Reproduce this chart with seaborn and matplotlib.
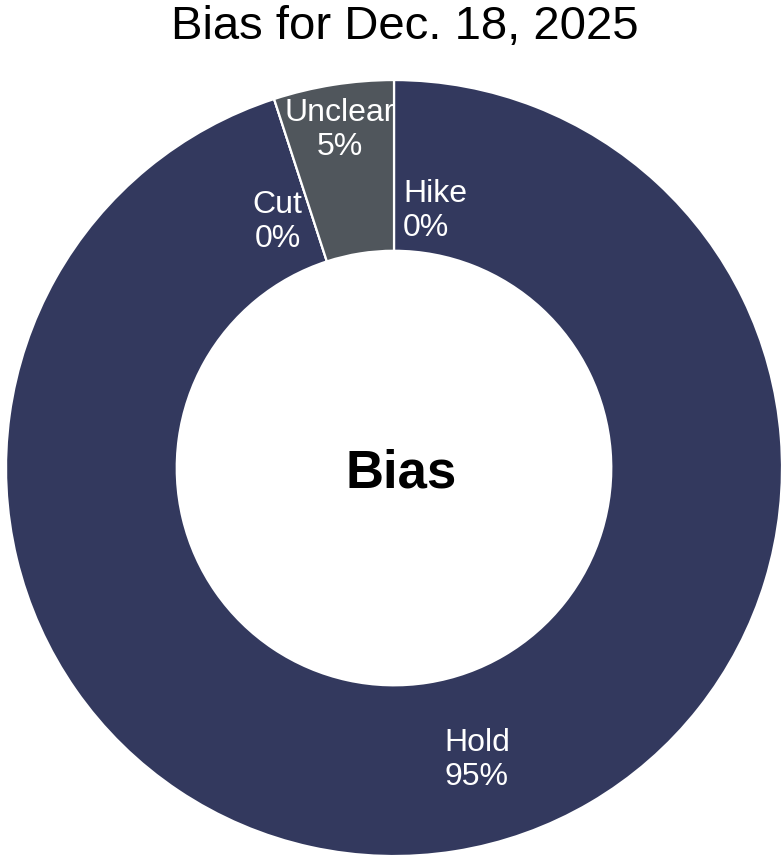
import matplotlib
matplotlib.use("Agg")
import matplotlib.pyplot as plt
import seaborn as sns

# data, clockwise from 12 o'clock
categories = ["Hike", "Hold", "Cut", "Unclear"]
shares = [0, 95, 0, 5]
slice_colors = ["#33395E", "#33395E", "#33395E", "#50565C"]
title = "Bias for Dec. 18, 2025"
center_label = "Bias"

sns.set_theme(style="white")
plt.rcParams["font.family"] = ["Liberation Sans", "DejaVu Sans"]

fig = plt.figure(figsize=(7.81, 8.58), dpi=100)
ax = fig.add_axes([0.0077, 0.0023, 0.9936, 0.9044])

wedges, _ = ax.pie(
    shares,
    colors=slice_colors,
    startangle=90,
    counterclock=False,
    radius=1.0,
    wedgeprops=dict(width=0.44, edgecolor="white", linewidth=1.6),
)
ax.set_xlim(-1, 1)
ax.set_ylim(-1, 1)
ax.set_aspect("equal")
ax.axis("off")

# label placement (data units of the pie, radius = 1)
label_pos = {
    "Hike": (0.023, 0.662, "left"),
    "Hold": (0.131, -0.753, "left"),
    "Cut": (-0.30, 0.634, "center"),
    "Unclear": (-0.139, 0.871, "center"),
}
for cat, val in zip(categories, shares):
    x, y, ha = label_pos[cat]
    ax.text(x, y, f"{cat}\n{val}%", color="white", fontsize=23,
            ha=ha, va="center", linespacing=1.2)

ax.text(0.018, -0.013, center_label, fontsize=38, fontweight="bold",
        ha="center", va="center", color="black")

fig.text(0.518, 0.968, title, fontsize=34, ha="center", va="center", color="black")

fig.savefig("out.png", dpi=100)
